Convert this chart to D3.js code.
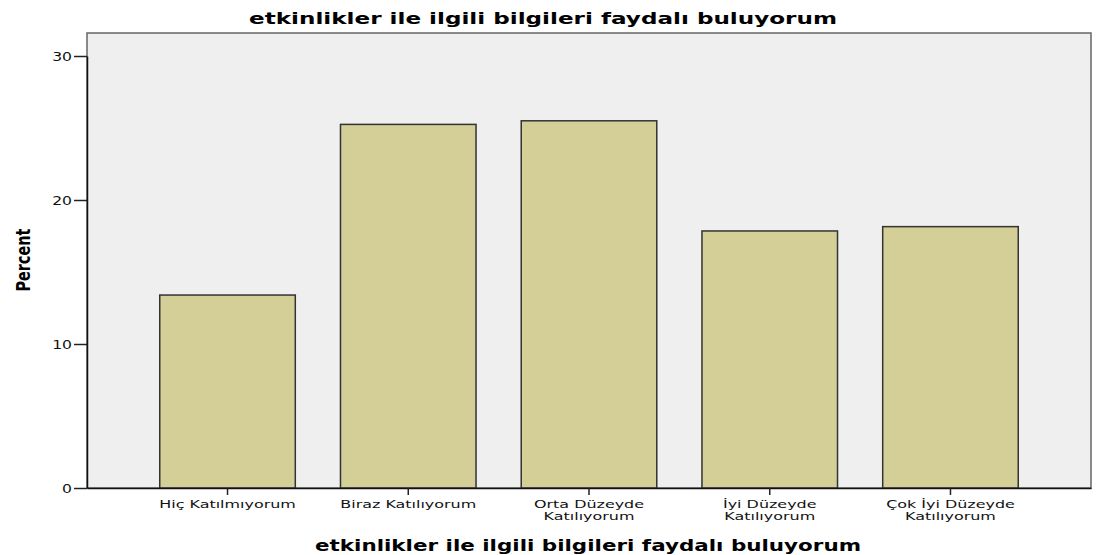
<!DOCTYPE html>
<html><head><meta charset="utf-8">
<script src="https://cdn.jsdelivr.net/npm/d3@7"></script>
<style>body{margin:0;background:#fff}svg{display:block}</style>
</head><body>
<svg id="c" width="1099" height="555"></svg>
<script>
const categories = [["Hiç Katılmıyorum"],["Biraz Katılıyorum"],["Orta Düzeyde","Katılıyorum"],["İyi Düzeyde","Katılıyorum"],["Çok İyi Düzeyde","Katılıyorum"]];
const percents = [13.4, 25.25, 25.5, 17.85, 18.15];
const yTicks = [0, 10, 20, 30];
const titleText = "etkinlikler ile ilgili bilgileri faydalı buluyorum";
const yTitle = "Percent";

const svg = d3.select("#c");
const L = 87, R = 1091, T = 33, B = 488;
const x = d3.scaleBand().domain(d3.range(categories.length)).range([L, R]).paddingInner(0.25).paddingOuter(0.4025);
const y = d3.scaleLinear().domain([0, 30]).range([B, 56]);

svg.append("rect").attr("x", L).attr("y", T).attr("width", R - L).attr("height", B - T)
  .attr("fill", "#efefef").attr("stroke", "#666").attr("stroke-width", 1.5);

svg.append("g").selectAll("rect").data(percents).join("rect")
  .attr("x", (d, i) => x(i)).attr("y", d => y(d))
  .attr("width", x.bandwidth()).attr("height", d => B - y(d))
  .attr("fill", "#d3cf97").attr("stroke", "#333").attr("stroke-width", 1.5);

const yAxis = svg.append("g").attr("transform", `translate(${L},0)`)
  .call(d3.axisLeft(y).tickValues(yTicks).tickSize(13).tickSizeOuter(0).tickFormat(""));
yAxis.select(".domain").attr("stroke", "#111").attr("stroke-width", 1.5);
yAxis.selectAll(".tick line").attr("stroke", "#222").attr("stroke-width", 1.5);
yAxis.selectAll(".tick").append("text")
  .attr("transform", "translate(-15,0) scale(1.25,1)").attr("dy", "0.36em")
  .attr("text-anchor", "end").attr("fill", "#111")
  .attr("font-family", "DejaVu Sans, sans-serif").attr("font-size", 12.5)
  .text(d => d);

const xAxis = svg.append("g").attr("transform", `translate(0,${B})`)
  .call(d3.axisBottom(x).tickSize(7).tickSizeOuter(0).tickFormat(""));
xAxis.select(".domain").attr("stroke", "#111").attr("stroke-width", 1.5);
xAxis.selectAll(".tick line").attr("stroke", "#222").attr("stroke-width", 1.5);

svg.append("g").selectAll("text").data(categories).join("text")
  .attr("transform", (d, i) => `translate(${x(i) + x.bandwidth() / 2},508) scale(1.45,1)`)
  .attr("text-anchor", "middle").attr("font-family", "DejaVu Sans, sans-serif").attr("font-size", 11).attr("fill", "#111")
  .each(function(d) {
    const t = d3.select(this);
    d.forEach((s, k) => t.append("tspan").attr("x", 0).attr("dy", k ? 12.5 : 0).text(s));
  });

svg.append("text").attr("x", 543).attr("y", 24).attr("text-anchor", "middle")
  .attr("font-family", "DejaVu Sans, sans-serif").attr("font-weight", "bold").attr("font-size", 16.5)
  .attr("textLength", 588).attr("lengthAdjust", "spacingAndGlyphs").text(titleText);

svg.append("text").attr("x", 588).attr("y", 551).attr("text-anchor", "middle")
  .attr("font-family", "DejaVu Sans, sans-serif").attr("font-weight", "bold").attr("font-size", 15.5)
  .attr("textLength", 546).attr("lengthAdjust", "spacingAndGlyphs").text(titleText);

svg.append("text").attr("transform", "translate(30,260) rotate(-90)").attr("text-anchor", "middle")
  .attr("font-family", "Liberation Sans Narrow, DejaVu Sans Condensed, sans-serif").attr("font-weight", "bold").attr("font-size", 20)
  .attr("textLength", 63).attr("lengthAdjust", "spacingAndGlyphs")
  .text(yTitle);
</script>
</body></html>
